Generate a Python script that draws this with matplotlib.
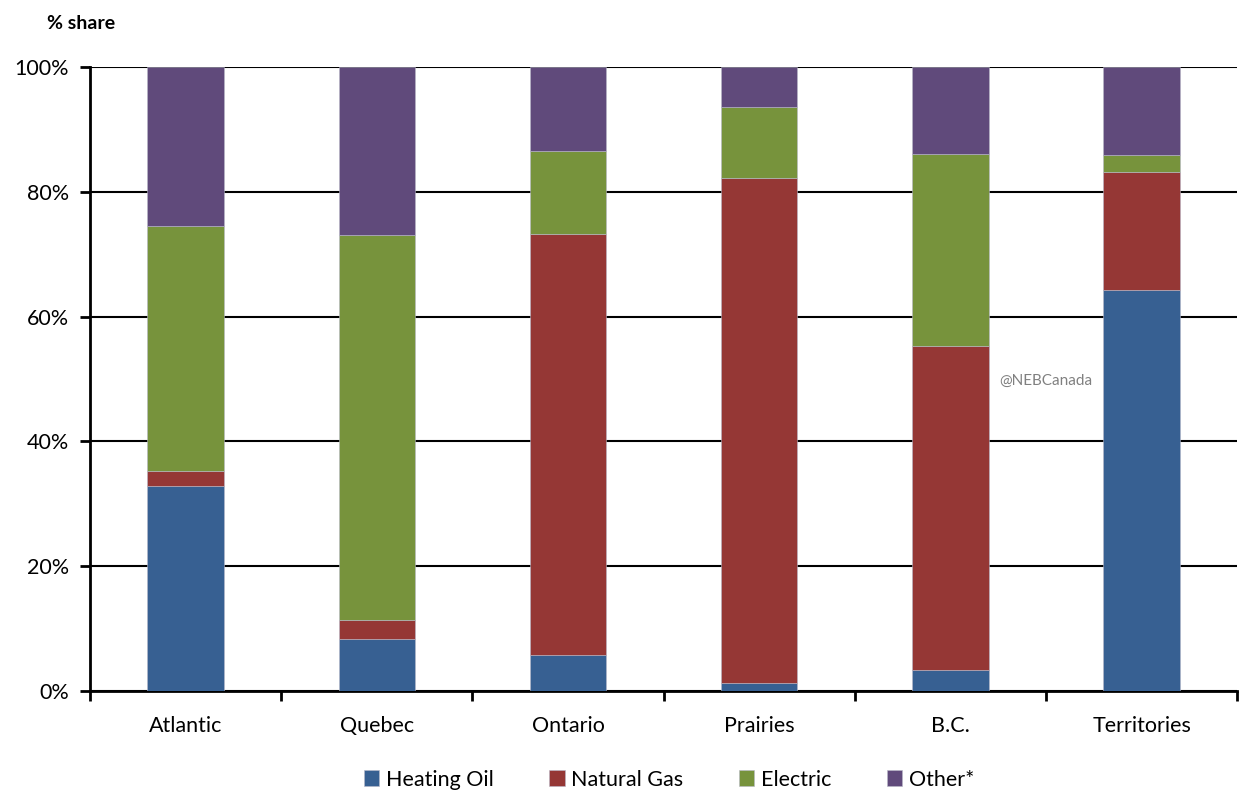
import matplotlib.pyplot as plt
import numpy as np

plt.rcParams['font.family'] = ['Lato', 'DejaVu Sans']

regions = ["Atlantic", "Quebec", "Ontario", "Prairies", "B.C.", "Territories"]
heating_oil = [32.9, 8.3, 5.8, 1.3, 3.4, 64.3]
natural_gas = [2.4, 3.1, 67.4, 80.9, 51.9, 18.9]
electric = [39.2, 61.7, 13.3, 11.4, 30.8, 2.7]
other = [25.5, 26.9, 13.5, 6.4, 13.9, 14.1]

series = [("Heating Oil", heating_oil, "#376092"),
          ("Natural Gas", natural_gas, "#953735"),
          ("Electric", electric, "#77933C"),
          ("Other*", other, "#604A7B")]

fig = plt.figure(figsize=(12.39, 7.93), dpi=100)
ax = fig.add_axes([0.0726, 0.1286, 0.926, 0.7869])

x = np.arange(len(regions))
bottom = np.zeros(len(regions))
for name, vals, col in series:
    ax.bar(x, vals, width=0.4, bottom=bottom, color=col, label=name,
           edgecolor='#b8b8c8', linewidth=0.4, zorder=3)
    bottom += np.array(vals)

ax.set_xlim(-0.5, len(regions) - 0.5)
ax.set_ylim(0, 100)
ax.set_yticks(np.arange(0, 101, 20))
ax.set_yticklabels([f"{v}%" for v in range(0, 101, 20)], fontsize=15.5)
ax.yaxis.grid(True, color='black', linewidth=1.5, zorder=0)
ax.set_axisbelow(True)

ax.set_xticks(x)
ax.set_xticklabels(regions, fontsize=15.5)
ax.set_xticks(np.arange(-0.5, len(regions)), minor=True)
ax.tick_params(axis='x', which='major', length=0, pad=18)
ax.tick_params(axis='x', which='minor', length=7, width=2, direction='out')
ax.tick_params(axis='y', length=7, width=2, direction='out', pad=8)

for s in ['top', 'right']:
    ax.spines[s].set_visible(False)
ax.spines['left'].set_linewidth(2)
ax.spines['bottom'].set_linewidth(2)

fig.text(0.038, 0.97, "% share", fontsize=14, fontweight='bold', va='center')
ax.text(4.5, 49.7, "@NEBCanada", fontsize=11, color='#808080', va='center', ha='center')

fig.legend(loc='center', bbox_to_anchor=(0.54, 0.017), ncol=4, frameon=False,
           fontsize=15.5, handlelength=0.7, handleheight=0.7, handletextpad=0.3,
           columnspacing=2.6)

fig.savefig("out.png", dpi=100)
